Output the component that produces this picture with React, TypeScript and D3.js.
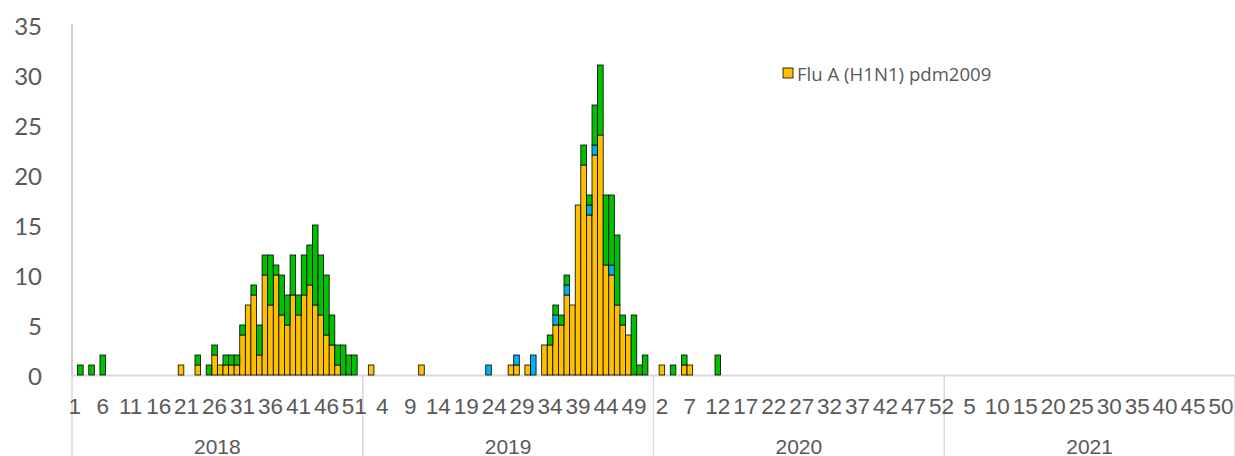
import React from "react";
import * as d3 from "d3";

// ---- Data (weekly counts) ----
const years = ["2018", "2019", "2020", "2021"];
const weeksPerYear = [52, 52, 52, 52];

// Flu A (H1N1) pdm2009 (orange)
const h1n1_2018 = [0,0,0,0,0,0,0,0,0,0, 0,0,0,0,0,0,0,0,0,1, 0,0,1,0,0,2,1,1,1,1, 4,7,8,2,10,7,10,6,5,8, 6,8,9,7,6,4,3,1,0,0, 0,0];
const h1n1_2019 = [0,1,0,0,0,0,0,0,0,0, 1,0,0,0,0,0,0,0,0,0, 0,0,0,0,0,0,1,1,0,1, 0,0,3,3,5,5,8,7,17,21, 16,22,24,11,10,7,5,4,0,0, 0,0];
const h1n1_2020 = [0,1,0,0,0,1,1,0,0,0, 0,0,0,0,0,0,0,0,0,0, 0,0,0,0,0,0,0,0,0,0, 0,0,0,0,0,0,0,0,0,0, 0,0,0,0,0,0,0,0,0,0, 0,0];
const h1n1_2021 = [0,0,0,0,0,0,0,0,0,0, 0,0,0,0,0,0,0,0,0,0, 0,0,0,0,0,0,0,0,0,0, 0,0,0,0,0,0,0,0,0,0, 0,0,0,0,0,0,0,0,0,0, 0,0];

// Second series (blue)
const blue_2018 = [0,0,0,0,0,0,0,0,0,0, 0,0,0,0,0,0,0,0,0,0, 0,0,0,0,0,0,0,0,0,0, 0,0,0,0,0,0,0,0,0,0, 0,0,0,0,0,0,0,0,0,0, 0,0];
const blue_2019 = [0,0,0,0,0,0,0,0,0,0, 0,0,0,0,0,0,0,0,0,0, 0,0,1,0,0,0,0,1,0,0, 2,0,0,0,1,0,1,0,0,0, 1,1,0,0,1,0,0,0,0,0, 0,0];
const blue_2020 = [0,0,0,0,0,0,0,0,0,0, 0,0,0,0,0,0,0,0,0,0, 0,0,0,0,0,0,0,0,0,0, 0,0,0,0,0,0,0,0,0,0, 0,0,0,0,0,0,0,0,0,0, 0,0];
const blue_2021 = [0,0,0,0,0,0,0,0,0,0, 0,0,0,0,0,0,0,0,0,0, 0,0,0,0,0,0,0,0,0,0, 0,0,0,0,0,0,0,0,0,0, 0,0,0,0,0,0,0,0,0,0, 0,0];

// Third series (green)
const green_2018 = [0,1,0,1,0,2,0,0,0,0, 0,0,0,0,0,0,0,0,0,0, 0,0,1,0,1,1,0,1,1,1, 1,0,1,3,2,5,1,4,3,4, 2,4,4,8,6,6,3,2,3,2, 2,0];
const green_2019 = [0,0,0,0,0,0,0,0,0,0, 0,0,0,0,0,0,0,0,0,0, 0,0,0,0,0,0,0,0,0,0, 0,0,0,1,1,1,1,0,0,2, 1,4,7,7,7,7,1,0,6,1, 2,0];
const green_2020 = [0,0,0,1,0,1,0,0,0,0, 0,2,0,0,0,0,0,0,0,0, 0,0,0,0,0,0,0,0,0,0, 0,0,0,0,0,0,0,0,0,0, 0,0,0,0,0,0,0,0,0,0, 0,0];
const green_2021 = [0,0,0,0,0,0,0,0,0,0, 0,0,0,0,0,0,0,0,0,0, 0,0,0,0,0,0,0,0,0,0, 0,0,0,0,0,0,0,0,0,0, 0,0,0,0,0,0,0,0,0,0, 0,0];

const yTicks = [0, 5, 10, 15, 20, 25, 30, 35];
const legendLabel = "Flu A (H1N1) pdm2009";

const COLORS = { orange: "#FFC000", blue: "#00B0F0", green: "#00C000" };

export default function App() {
  const W = 1235, H = 456;
  const x0 = 72, x1 = 1235, yBase = 375, yTop = 25;

  const orange = [...h1n1_2018, ...h1n1_2019, ...h1n1_2020, ...h1n1_2021];
  const blue = [...blue_2018, ...blue_2019, ...blue_2020, ...blue_2021];
  const green = [...green_2018, ...green_2019, ...green_2020, ...green_2021];

  const cats: { i: number; week: number; year: number }[] = [];
  let k = 0;
  weeksPerYear.forEach((n, yi) => {
    for (let w = 1; w <= n; w++) cats.push({ i: k++, week: w, year: yi });
  });

  const x = d3.scaleBand<number>().domain(cats.map(c => c.i)).range([x0, x1]).padding(0);
  const y = d3.scaleLinear().domain([0, 35]).range([yBase, yTop]);

  const stack = d3.stack<any>().keys(["orange", "blue", "green"])(
    cats.map(c => ({ i: c.i, orange: orange[c.i], blue: blue[c.i], green: green[c.i] }))
  );

  const bounds: number[] = [];
  let acc = 0;
  bounds.push(x(0)!);
  weeksPerYear.forEach(n => { acc += n; bounds.push(acc >= cats.length ? x1 : x(acc)!); });

  return (
    <svg width={W} height={H} style={{ position: "absolute", left: 0, top: 0, background: "#fff" }}>
      <line x1={x0} x2={x0} y1={yTop - 1} y2={yBase} stroke="#bfbfbf" strokeWidth={1.5} />
      <line x1={x0} x2={x1} y1={yBase + 0.5} y2={yBase + 0.5} stroke="#d9d9d9" strokeWidth={2} />
      {bounds.map((b, i) => (
        <line key={i} x1={b} x2={b} y1={yBase} y2={H} stroke="#d9d9d9" strokeWidth={1.5} />
      ))}
      {yTicks.map(t => (
        <text key={t} x={42} y={y(t)} textAnchor="end" dominantBaseline="central"
          fontFamily="Lato, 'Open Sans', sans-serif" fontSize={24} fill="#595959">{t}</text>
      ))}
      {stack.map(s => (
        <g key={s.key} fill={(COLORS as any)[s.key]}>
          {s.map((d, j) => d[1] - d[0] > 0 ? (
            <rect key={j} x={x(j)!} width={x.bandwidth()} y={y(d[1])} height={y(d[0]) - y(d[1])}
              stroke="#000" strokeWidth={0.8} />
          ) : null)}
        </g>
      ))}
      {cats.filter(c => c.i % 5 === 0).map(c => (
        <text key={c.i} x={x(c.i)! + x.bandwidth() / 2} y={406} textAnchor="middle" dominantBaseline="central"
          fontFamily="'Liberation Sans', Arial, sans-serif" fontSize={22.5} fill="#595959">{c.week}</text>
      ))}
      {years.map((yr, i) => (
        <text key={yr} x={(bounds[i] + bounds[i + 1]) / 2} y={446} textAnchor="middle" dominantBaseline="central"
          fontFamily="'Liberation Sans', Arial, sans-serif" fontSize={21} fill="#595959">{yr}</text>
      ))}
      <rect x={783} y={68} width={10} height={10} fill={COLORS.orange} stroke="#000" strokeWidth={0.8} />
      <text x={797} y={73} dominantBaseline="central" fontFamily="'Open Sans', sans-serif" fontSize={18.6} fill="#595959">
        {legendLabel}
      </text>
    </svg>
  );
}
